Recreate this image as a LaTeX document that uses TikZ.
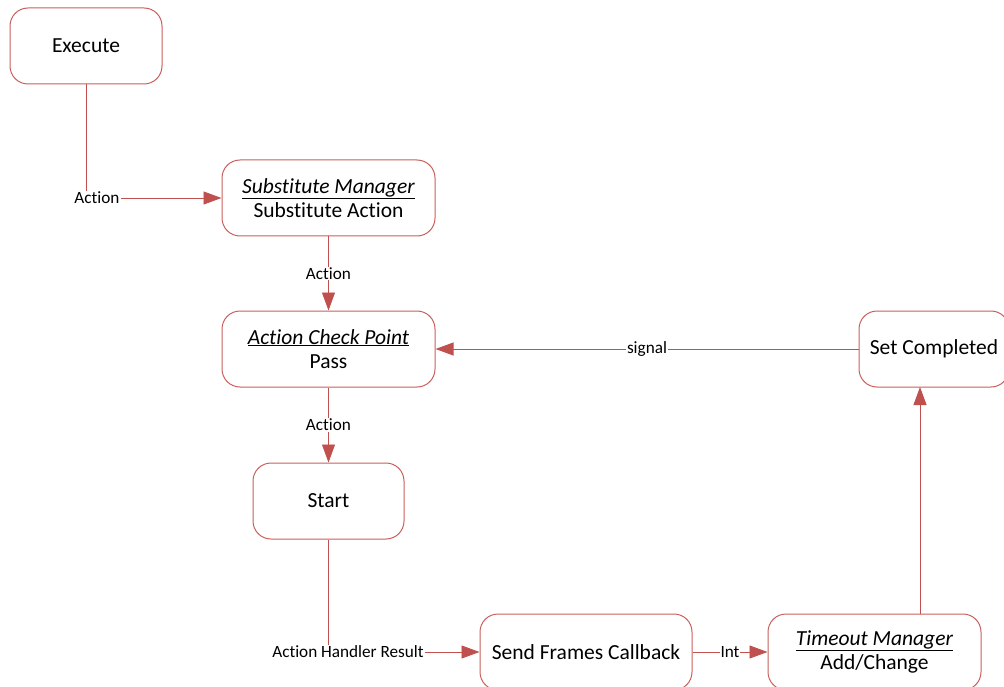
\documentclass[tikz,border=0pt]{standalone}
\usepackage{fontspec}
\setmainfont{Carlito}[Ligatures={NoCommon}]
\usetikzlibrary{arrows.meta}
\definecolor{lnred}{HTML}{C0504D}
\definecolor{bxred}{HTML}{C9605D}
\tikzset{
  box/.style={draw=bxred, line width=1pt, rounded corners=18pt, fill=white,
    minimum height=76pt, align=center, inner sep=0pt,
    font=\fontsize{21.5}{24.5}\selectfont},
  conn/.style={draw=lnred, line width=0.9pt, -{Triangle[length=18pt,width=13pt]}},
  lbl/.style={fill=white, inner sep=1pt, font=\fontsize{17.2}{19}\selectfont}
}
\begin{document}
\begin{tikzpicture}[x=1pt,y=-1pt]
\useasboundingbox (0,0) rectangle (1004,687);
\begin{scope}
\clip (0,0) rectangle (1004,687);
\node[box, minimum width=152pt] (exe) at (86,46) {Execute};
\node[box, minimum width=213pt] (sub) at (328.5,198) {\underline{\textit{Substitute Manager}}\\Substitute Action};
\node[box, minimum width=213pt] (acp) at (328.5,349) {\underline{\textit{Action Check Point}}\\Pass};
\node[box, minimum width=151pt] (start) at (328.5,501) {Start};
\node[box, minimum width=212pt] (sfc) at (586,652) {Send Frames Callback};
\node[box, minimum width=213pt] (tm) at (874.5,652) {\underline{\textit{Timeout Manager}}\\Add/Change};
\node[box, minimum width=150pt] (sc) at (934,349) {Set Completed};

\coordinate (c1) at (86,198);
\coordinate (c2) at (328.5,652);
\coordinate (tmtop) at (920,614);
\coordinate (scbot) at (920,387);

\draw[conn] (exe.south) -- (c1) -- (sub.west);
\node[lbl] (l1) at (97,198) {Action};
\draw[conn] (sub.south) -- (acp.north) node[lbl, pos=0.5] (l2) {Action};
\draw[conn] (acp.south) -- (start.north) node[lbl, pos=0.5] (l3) {Action};
\draw[conn] (start.south) -- (c2) -- (sfc.west);
\node[lbl] (l4) at (348,652) {Action Handler Result};
\draw[conn] (sfc.east) -- (tm.west) node[lbl, pos=0.5] (l5) {Int};
\draw[conn] (tmtop) -- (scbot);
\draw[conn] (sc.west) -- (acp.east) node[lbl, pos=0.5] (l6) {signal};
\end{scope}
\end{tikzpicture}
\end{document}
